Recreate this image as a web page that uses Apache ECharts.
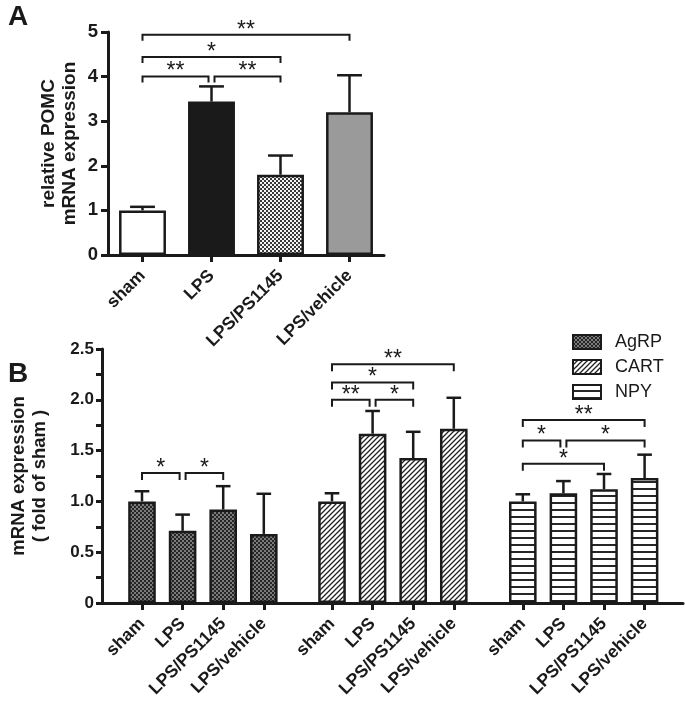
<!DOCTYPE html>
<html><head><meta charset="utf-8">
<script src="https://cdn.jsdelivr.net/npm/echarts@6/dist/echarts.min.js"></script>
<style>html,body{margin:0;padding:0;background:#fff}#c{width:685px;height:705px}</style>
</head><body><div id="c"></div>
<script>
// ---------- Panel A data ----------
const catA = ['sham', 'LPS', 'LPS/PS1145', 'LPS/vehicle'];
const pomcMean = [1.00, 3.44, 1.80, 3.20];
const pomcErrTop = [1.08, 3.78, 2.23, 4.03];
const ticksA = [0, 1, 2, 3, 4, 5];
// [from, to, level, label]
const bracketsA = [[0, 1, 4.0, '**'], [1, 2, 4.0, '**'], [0, 2, 4.44, '*'], [0, 3, 4.94, '**']];

// ---------- Panel B data ----------
const catB = ['sham', 'LPS', 'LPS/PS1145', 'LPS/vehicle'];
const geneNames = ['AgRP', 'CART', 'NPY'];
const agrpMean = [1.00, 0.71, 0.92, 0.68];
const agrpErrTop = [1.10, 0.87, 1.15, 1.075];
const cartMean = [1.00, 1.666, 1.426, 1.715];
const cartErrTop = [1.08, 1.89, 1.685, 2.02];
const npyMean = [1.00, 1.08, 1.12, 1.23];
const npyErrTop = [1.07, 1.20, 1.27, 1.46];
const ticksB = [0, 0.5, 1.0, 1.5, 2.0, 2.5];
const bracketsAgrp = [[0, 1, 1.28, '*'], [1, 2, 1.28, '*']];
const bracketsCart = [[0, 1, 2.0, '**'], [1, 2, 2.0, '*'], [0, 2, 2.17, '*'], [0, 3, 2.35, '**']];
const bracketsNpy = [[0, 3, 1.80, '**'], [0, 1, 1.60, '*'], [1, 3, 1.60, '*'], [0, 2, 1.37, '*']];

// ---------- styles ----------
const INK = '#1a1a1a';
const FONT = 'Liberation Sans, Arial, Helvetica, sans-serif';
function makePattern(kind) {
  const c = document.createElement('canvas');
  const ctx = c.getContext('2d');
  if (kind === 'checkLight') {
    c.width = c.height = 4;
    ctx.fillStyle = '#f4f4f4'; ctx.fillRect(0, 0, 4, 4);
    ctx.fillStyle = '#3a3a3a'; ctx.fillRect(0, 0, 2, 2); ctx.fillRect(2, 2, 2, 2);
  } else if (kind === 'checkDark') {
    c.width = c.height = 4;
    ctx.fillStyle = '#7a7a7a'; ctx.fillRect(0, 0, 4, 4);
    ctx.fillStyle = '#262626'; ctx.fillRect(0, 0, 2, 2); ctx.fillRect(2, 2, 2, 2);
  } else if (kind === 'diag') {
    c.width = c.height = 5;
    ctx.fillStyle = '#fff'; ctx.fillRect(0, 0, 5, 5);
    ctx.strokeStyle = '#222'; ctx.lineWidth = 1.3;
    ctx.beginPath();
    ctx.moveTo(-1, 6); ctx.lineTo(6, -1);
    ctx.moveTo(-1, 1); ctx.lineTo(1, -1);
    ctx.moveTo(4, 6); ctx.lineTo(6, 4);
    ctx.stroke();
  } else if (kind === 'hlines') {
    c.width = 4; c.height = 7;
    ctx.fillStyle = '#fff'; ctx.fillRect(0, 0, 4, 7);
    ctx.fillStyle = '#262626'; ctx.fillRect(0, 5, 4, 2);
  }
  return { image: c, repeat: 'repeat' };
}
const fillsA = ['#ffffff', '#1a1a1a', makePattern('checkLight'), '#9a9a9a'];
const fillsB = [makePattern('checkDark'), makePattern('diag'), makePattern('hlines')];
const BAR_FRAC = 0.68;

function errSeries(xi, yi, mean, top) {
  return {
    type: 'custom', xAxisIndex: xi, yAxisIndex: yi, silent: true, z: 3,
    encode: { x: 0, y: 1 },
    data: mean.map((m, i) => [i, m, top[i]]),
    renderItem: (p, api) => {
      const x = api.value(0), m = api.value(1), t = api.value(2);
      const p0 = api.coord([x, m]), p1 = api.coord([x, t]);
      const hw = api.size([1, 0])[0] * BAR_FRAC * 0.53 / 2;
      return { type: 'group', children: [
        { type: 'line', shape: { x1: p0[0], y1: p0[1], x2: p1[0], y2: p1[1] }, style: { stroke: INK, lineWidth: 2.5 } },
        { type: 'line', shape: { x1: p1[0] - hw, y1: p1[1], x2: p1[0] + hw, y2: p1[1] }, style: { stroke: INK, lineWidth: 2.5 } }
      ] };
    }
  };
}
function bracketSeries(xi, yi, list, drop) {
  return {
    type: 'custom', xAxisIndex: xi, yAxisIndex: yi, silent: true, z: 4,
    encode: { x: 0, y: 1 },
    data: list.map(b => [b[0], b[2]]),
    renderItem: (p, api) => {
      const b = list[p.dataIndex];
      const a = api.coord([b[0], b[2]]), c = api.coord([b[1], b[2]]);
      let x1 = a[0], x2 = c[0];
      const y = a[1];
      if (list.some(o => o !== b && o[2] === b[2] && o[1] === b[0])) x1 += 3;
      if (list.some(o => o !== b && o[2] === b[2] && o[0] === b[1])) x2 -= 3;
      return { type: 'group', children: [
        { type: 'polyline', shape: { points: [[x1, y + drop], [x1, y], [x2, y], [x2, y + drop]] },
          style: { stroke: INK, lineWidth: 2, fill: null } },
        { type: 'text', x: (x1 + x2) / 2, y: y - 4.5,
          style: { text: b[3], fontSize: 23, fontFamily: FONT, fill: INK,
                   textAlign: 'center', textVerticalAlign: 'middle', align: 'center', verticalAlign: 'middle' } }
      ] };
    }
  };
}

const catLabel = { rotate: 45, fontSize: 17.5, fontWeight: 'bold', fontFamily: FONT, color: INK, margin: 18, interval: 0 };
function catAxis(gi, data, showLine) {
  return {
    type: 'category', gridIndex: gi, data: data,
    axisLine: { show: showLine, lineStyle: { color: INK, width: 3 } },
    axisTick: { show: true, alignWithLabel: true, length: 7, lineStyle: { color: INK, width: 3 } },
    axisLabel: catLabel, splitLine: { show: false }
  };
}
const yHidden = gi => ({ type: 'value', gridIndex: gi, min: 0, max: 2.5, show: false, splitLine: { show: false } });

const chart = echarts.init(document.getElementById('c'), null, { renderer: 'canvas' });
const option = {
  animation: false,
  backgroundColor: '#fff',
  title: [
    { text: 'A', left: 3, top: -2, textStyle: { fontSize: 28, fontWeight: 'bold', fontFamily: FONT, color: INK } },
    { text: 'B', left: 3, top: 355, textStyle: { fontSize: 28, fontWeight: 'bold', fontFamily: FONT, color: INK } }
  ],
  legend: {
    data: geneNames, orient: 'vertical', left: 567, top: 328,
    itemWidth: 28, itemHeight: 14, itemGap: 7, icon: 'rect', selectedMode: false,
    itemStyle: { borderColor: INK, borderWidth: 2 },
    textStyle: { fontSize: 18, fontFamily: FONT, color: INK, padding: [0, 0, 0, 9] }
  },
  grid: [
    { left: 108, top: 32, width: 276, height: 223 },
    { left: 100, top: 349, width: 583, height: 254 },
    { left: 121.7, top: 349, width: 162.4, height: 254 },
    { left: 311.7, top: 349, width: 162.4, height: 254 },
    { left: 502.5, top: 349, width: 162.4, height: 254 }
  ],
  xAxis: [
    catAxis(0, catA, true),
    { type: 'value', gridIndex: 1, min: 0, max: 1, axisLine: { show: true, lineStyle: { color: INK, width: 3 } },
      axisTick: { show: false }, axisLabel: { show: false }, splitLine: { show: false } },
    catAxis(2, catB, false),
    catAxis(3, catB, false),
    catAxis(4, catB, false)
  ],
  yAxis: [
    { type: 'value', gridIndex: 0, min: ticksA[0], max: ticksA[ticksA.length - 1], interval: 1,
      axisLine: { show: true, lineStyle: { color: INK, width: 3 } },
      axisTick: { show: true, length: 7, lineStyle: { color: INK, width: 3 } },
      axisLabel: { fontSize: 18.5, fontWeight: 'bold', fontFamily: FONT, color: INK, margin: 10 },
      splitLine: { show: false },
      name: 'relative POMC\nmRNA expression', nameLocation: 'middle', nameRotate: 90, nameGap: 28,
      nameTextStyle: { fontSize: 19, fontWeight: 'bold', fontFamily: FONT, color: INK, lineHeight: 21 } },
    { type: 'value', gridIndex: 1, min: ticksB[0], max: ticksB[ticksB.length - 1], interval: 0.25,
      axisLine: { show: true, lineStyle: { color: INK, width: 3 } },
      axisTick: { show: true, length: 6, lineStyle: { color: INK, width: 3 } },
      axisLabel: { fontSize: 17, fontWeight: 'bold', fontFamily: FONT, color: INK, margin: 8,
        formatter: v => { const t = ticksB.find(k => Math.abs(k - v) < 1e-6); return t === undefined ? '' : (t === 0 ? '0' : t.toFixed(1)); } },
      splitLine: { show: false },
      name: 'mRNA expression\n( fold of sham )', nameLocation: 'middle', nameRotate: 90, nameGap: 52,
      nameTextStyle: { fontSize: 18.5, fontWeight: 'bold', fontFamily: FONT, color: INK, lineHeight: 21 } },
    yHidden(2), yHidden(3), yHidden(4)
  ],
  series: [
    { type: 'bar', name: 'POMC', xAxisIndex: 0, yAxisIndex: 0, barWidth: (BAR_FRAC * 100) + '%', z: 2,
      data: pomcMean.map((v, i) => ({ value: v, itemStyle: { color: fillsA[i] } })),
      itemStyle: { borderColor: INK, borderWidth: 2.5 } },
    errSeries(0, 0, pomcMean, pomcErrTop),
    bracketSeries(0, 0, bracketsA, 6),

    { type: 'bar', name: geneNames[0], xAxisIndex: 2, yAxisIndex: 2, barWidth: (BAR_FRAC * 100) + '%', z: 2,
      data: agrpMean, itemStyle: { color: fillsB[0], borderColor: INK, borderWidth: 2.5 } },
    errSeries(2, 2, agrpMean, agrpErrTop),
    bracketSeries(2, 2, bracketsAgrp, 7),

    { type: 'bar', name: geneNames[1], xAxisIndex: 3, yAxisIndex: 3, barWidth: (BAR_FRAC * 100) + '%', z: 2,
      data: cartMean, itemStyle: { color: fillsB[1], borderColor: INK, borderWidth: 2.5 } },
    errSeries(3, 3, cartMean, cartErrTop),
    bracketSeries(3, 3, bracketsCart, 7),

    { type: 'bar', name: geneNames[2], xAxisIndex: 4, yAxisIndex: 4, barWidth: (BAR_FRAC * 100) + '%', z: 2,
      data: npyMean, itemStyle: { color: fillsB[2], borderColor: INK, borderWidth: 2.5 } },
    errSeries(4, 4, npyMean, npyErrTop),
    bracketSeries(4, 4, bracketsNpy, 7)
  ]
};
chart.setOption(option);
</script>
</body></html>
